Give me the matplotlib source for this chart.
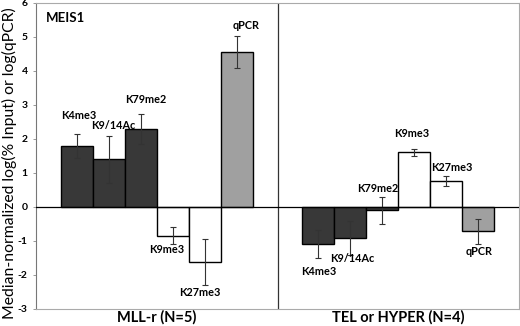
import numpy as np
import matplotlib
matplotlib.use("Agg")
from matplotlib import pyplot as plt

plt.rcParams['font.family'] = ['Lato', 'DejaVu Sans']

groups = ['MLL-r (N=5)', 'TEL or HYPER (N=4)']
marks = ['K4me3', 'K9/14Ac', 'K79me2', 'K9me3', 'K27me3', 'qPCR']
values = [[1.80, 1.40, 2.30, -0.84, -1.62, 4.57],
          [-1.09, -0.90, -0.10, 1.61, 0.77, -0.72]]
errors = [[0.35, 0.68, 0.44, 0.24, 0.67, 0.47],
          [0.40, 0.50, 0.39, 0.11, 0.15, 0.37]]
yticks = [-3, -2, -1, 0, 1, 2, 3, 4, 5, 6]

# fill colour per mark
colors = ['#383838', '#383838', '#383838', 'white', 'white', '#a0a0a0']
# label positions (data coords) per group, tuned by eye
label_pos = [[(-0.325, 2.70), (-0.18, 2.40), (-0.045, 3.17), (0.04, -1.26), (0.18, -2.50), (0.37, 5.35)],
             [(0.67, -1.91), (0.81, -1.51), (0.915, 0.55), (1.055, 2.15), (1.22, 1.15), (1.335, -1.32)]]

fig = plt.figure(figsize=(5.2, 3.26), dpi=100)
ax = fig.add_axes([36 / 520, 1 - 309 / 326, 483 / 520, 306 / 326])

w = 0.1325
offs = (np.arange(6) - 2.5) * w
for g in range(2):
    x = g + offs
    ax.bar(x, values[g], width=w, color=colors, edgecolor='black', linewidth=1.0,
           yerr=errors[g], error_kw=dict(ecolor='#333333', elinewidth=0.8, capsize=2, capthick=0.8),
           zorder=3)
    for i, m in enumerate(marks):
        lx, ly = label_pos[g][i]
        ax.text(lx, ly, m, ha='center', va='center', fontsize=7.8, fontweight='bold', zorder=4)

ax.axhline(0, color='black', linewidth=0.9, zorder=4)
ax.axvline(0.5, color='#333333', linewidth=0.9, zorder=2)

ax.set_xlim(-0.5, 1.5)
ax.set_ylim(-3, 6)
ax.set_yticks(yticks)
ax.set_yticklabels([str(t) for t in yticks], fontsize=7.5, fontweight='bold')
ax.set_xticks([0, 1])
ax.set_xticklabels(groups, fontsize=10.5, fontweight='bold')
ax.tick_params(axis='x', length=0, pad=1)
ax.tick_params(axis='y', length=2, width=0.6, color='#888888', pad=4)

for s in ['top', 'right', 'bottom']:
    ax.spines[s].set_color('#aaaaaa')
    ax.spines[s].set_linewidth(0.8)
ax.spines['left'].set_color('#777777')
ax.spines['left'].set_linewidth(0.8)

ax.text(0.02, 0.95, 'MEIS1', transform=ax.transAxes, fontsize=9.5, fontweight='bold',
        ha='left', va='center')

fig.text(9 / 520, 0.5, 'Median-normalized log(% Input) or log(qPCR)', rotation=90,
         ha='center', va='center', fontsize=11.3)

fig.savefig('out.png', dpi=100)
